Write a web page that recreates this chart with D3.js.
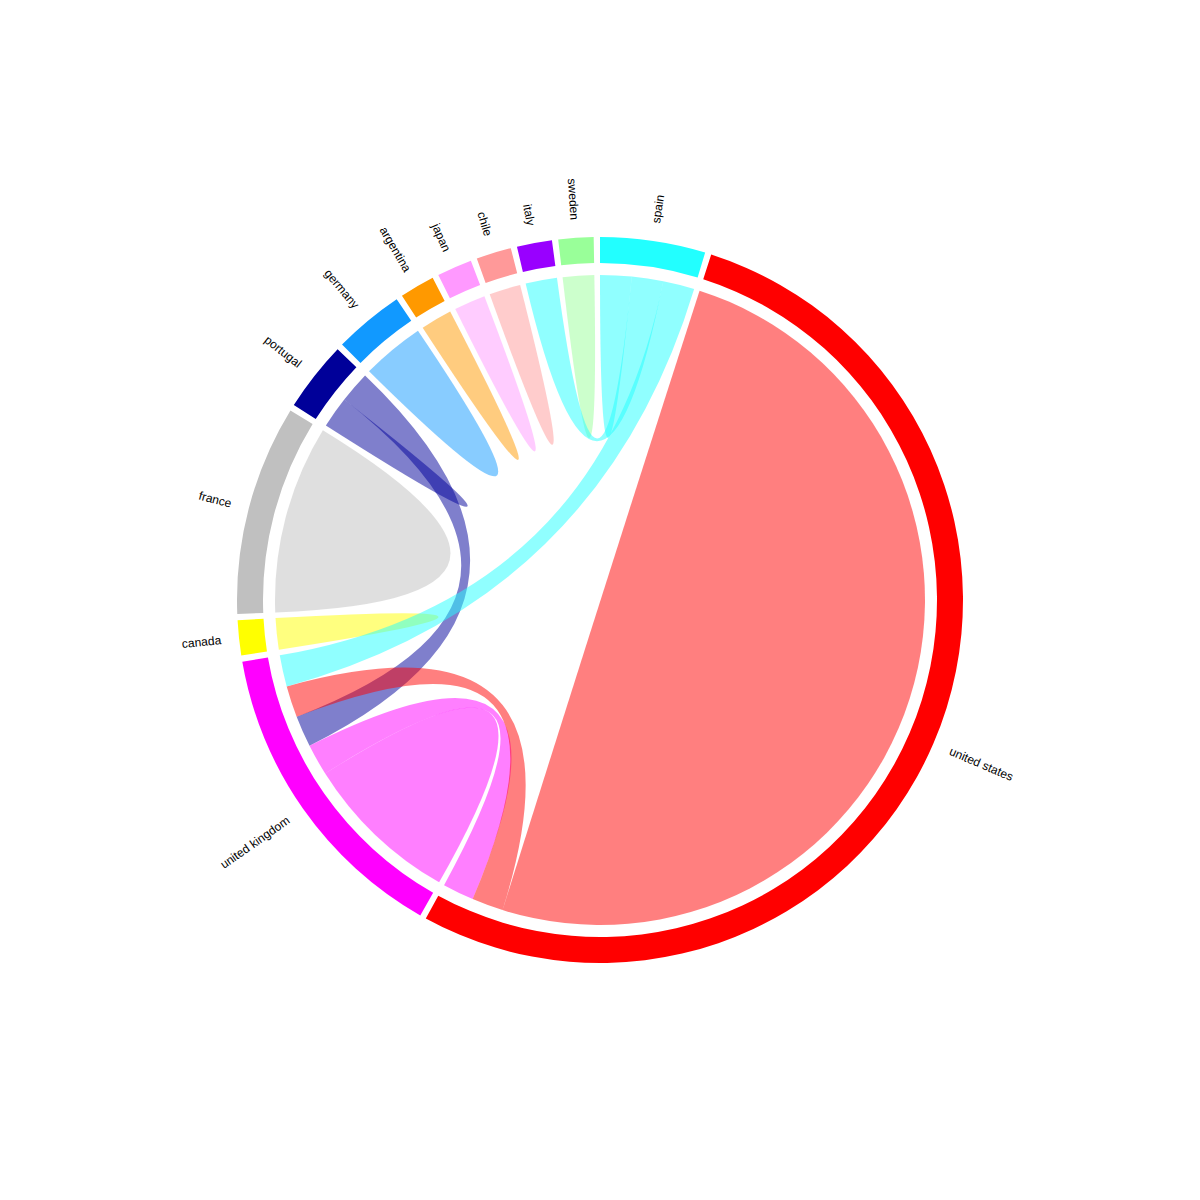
<!DOCTYPE html>
<html><head><meta charset="utf-8">
<script src="https://cdn.jsdelivr.net/npm/d3@7"></script>
<style>body{margin:0;background:#fff}</style>
</head><body>
<svg id="chart" width="1200" height="1200"></svg>
<script>
// ---- data ----
const countries = ['spain','united states','united kingdom','canada','france','portugal','germany','argentina','japan','chile','italy','sweden'];
const colors = ['#22ffff','#ff0000','#ff00ff','#ffff00','#c0c0c0','#000099','#1199ff','#ff9900','#ff99ff','#ff9999','#9900ff','#99ff99'];
const flowSource = ['spain','spain','spain','united states','united states','united kingdom','united kingdom','canada','france','portugal','portugal','germany','argentina','japan','chile','sweden'];
const flowTarget = ['spain','italy','united kingdom','united states','united kingdom','united kingdom','united states','canada','france','portugal','united kingdom','germany','argentina','japan','chile','sweden'];
const flowValue  = [1,1,1,32,1,5,1,1,6,1,1,2,1,1,1,1];

// ---- layout ----
const cx = 600, cy = 600;
const outerR = 363, innerR = 337, ribbonR = 325, labelR = 381;
const pad = 1 * Math.PI / 180;
const n = countries.length;
const idx = new Map(countries.map((c, i) => [c, i]));
const flows = flowSource.map((s, i) => ({s: idx.get(s), t: idx.get(flowTarget[i]), v: flowValue[i], k: i}));

const segs = countries.map(() => []);
flows.forEach(f => { if (f.s === f.t) segs[f.s].push({f, role: 'self'}); });
flows.forEach(f => { if (f.s !== f.t) segs[f.s].push({f, role: 'out'}); });
for (let g = 0; g < n; g++) {
  flows.filter(f => f.t === g && f.s !== g).sort((a, b) => b.s - a.s)
       .forEach(f => segs[g].push({f, role: 'in'}));
}
const groupVal = segs.map(list => d3.sum(list, d => d.f.v));
const total = d3.sum(groupVal);
const angle = d3.scaleLinear().domain([0, total]).range([0, 2 * Math.PI - n * pad]);

const ends = flows.map(() => ({}));
const groups = [];
let cum = 0;
segs.forEach((list, g) => {
  const start = angle(cum) + g * pad;
  let c = cum;
  list.forEach(d => {
    const e = {index: g, startAngle: angle(c) + g * pad, endAngle: angle(c + d.f.v) + g * pad};
    if (d.role === 'self') { ends[d.f.k].source = e; ends[d.f.k].target = e; }
    else if (d.role === 'out') ends[d.f.k].source = e;
    else ends[d.f.k].target = e;
    c += d.f.v;
  });
  groups.push({index: g, startAngle: start, endAngle: angle(c) + g * pad});
  cum = c;
});

// ---- draw ----
const svg = d3.select('#chart');
const root = svg.append('g').attr('transform', `translate(${cx},${cy})`);

const ribbon = d3.ribbon().radius(ribbonR);
const order = flows.slice().sort((a, b) => b.s - a.s || a.k - b.k);
root.append('g').selectAll('path')
  .data(order)
  .join('path')
  .attr('d', f => ribbon(ends[f.k]))
  .attr('fill', f => colors[f.s])
  .attr('fill-opacity', 0.5)
  .attr('stroke', 'none');

const arc = d3.arc().innerRadius(innerR).outerRadius(outerR);
root.append('g').selectAll('path')
  .data(groups)
  .join('path')
  .attr('d', arc)
  .attr('fill', d => colors[d.index]);

root.append('g').selectAll('text')
  .data(groups)
  .join('text')
  .each(d => { d.mid = (d.startAngle + d.endAngle) / 2; })
  .attr('transform', d => {
    const deg = d.mid * 180 / Math.PI;
    return `rotate(${deg - 90}) translate(${labelR},0)` + (d.mid > Math.PI ? ' rotate(180)' : '');
  })
  .attr('text-anchor', d => d.mid > Math.PI ? 'end' : 'start')
  .attr('dy', '0.35em')
  .attr('font-family', 'Liberation Sans, Arial, sans-serif')
  .attr('font-size', 12)
  .attr('fill', '#000')
  .text(d => countries[d.index]);
</script>
</body></html>
